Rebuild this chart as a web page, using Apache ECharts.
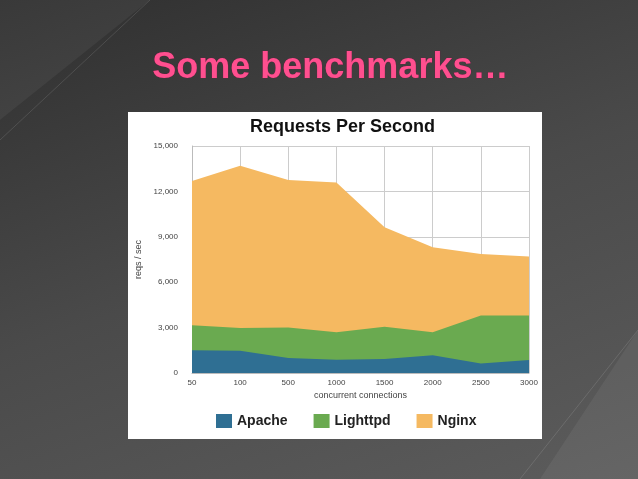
<!DOCTYPE html>
<html>
<head>
<meta charset="utf-8">
<script src="https://cdn.jsdelivr.net/npm/echarts@6/dist/echarts.min.js"></script>
<style>
  html, body { margin: 0; padding: 0; }
  body { width: 638px; height: 479px; background: linear-gradient(160deg, #2f2f2f 0%, #4a4a4a 50%, #5c5c5c 100%); }
  #main { width: 638px; height: 479px; }
</style>
</head>
<body>
<div id="main"></div>
<script>
// connection counts
var categories = ["50", "100", "500", "1000", "1500", "2000", "2500", "3000"];
// values read as drawn (area tops, overlapping)
var apache   = [1500, 1470, 990, 880, 920, 1170, 620, 860];
var lighttpd = [3150, 2970, 3010, 2700, 3060, 2700, 3800, 3800];
var nginx    = [12690, 13700, 12750, 12580, 9630, 8310, 7870, 7700];
var yTicks = [0, 3000, 6000, 9000, 12000, 15000];

var chart = echarts.init(document.getElementById("main"));

function area(name, data, color) {
  return {
    name: name, type: "line", data: data,
    symbol: "none", lineStyle: { width: 0 },
    areaStyle: { color: color, opacity: 1 },
    itemStyle: { color: color }
  };
}

chart.setOption({
  animation: false,
  graphic: [
    { type: "polygon", silent: true, shape: { points: [[0, 0], [150, 0], [0, 120]] }, style: { fill: "rgba(255,255,255,0.05)" } },
    { type: "polygon", silent: true, shape: { points: [[540, 479], [638, 330], [638, 479]] }, style: { fill: "rgba(255,255,255,0.06)" } },
    { type: "line", silent: true, shape: { x1: 0, y1: 140, x2: 150, y2: 0 }, style: { stroke: "rgba(255,255,255,0.12)", lineWidth: 1 } },
    { type: "line", silent: true, shape: { x1: 520, y1: 479, x2: 638, y2: 330 }, style: { stroke: "rgba(255,255,255,0.12)", lineWidth: 1 } },
    { type: "rect", silent: true, z: -1, shape: { x: 128, y: 112, width: 414, height: 327 }, style: { fill: "#ffffff" } },
    { type: "text", silent: true, left: 152, top: 50,
      style: { text: "Some benchmarks…", fill: "#ff4f8f", font: "bold 36px 'Liberation Sans', Arial, sans-serif",
               stroke: "#6a2040", lineWidth: 0.6, shadowColor: "rgba(0,0,0,0.6)", shadowBlur: 3, shadowOffsetX: 1, shadowOffsetY: 1 } },
    { type: "text", silent: true, left: 250, top: 118,
      style: { text: "Requests Per Second", fill: "#111", font: "bold 18px 'Liberation Sans', Arial, sans-serif" } }
  ],
  grid: { left: 192, right: 109, top: 146, bottom: 106 },
  legend: {
    bottom: 46, left: 211, itemWidth: 16, itemHeight: 14, itemGap: 26,
    icon: "rect",
    textStyle: { fontWeight: "bold", fontSize: 14, color: "#222", fontFamily: "Liberation Sans" },
    data: ["Apache", "Lighttpd", "Nginx"]
  },
  xAxis: {
    type: "category", data: categories, boundaryGap: false,
    name: "concurrent connections", nameLocation: "middle", nameGap: 18,
    nameTextStyle: { fontSize: 9, color: "#444" },
    axisLine: { lineStyle: { color: "#bbb" } }, axisTick: { show: false },
    axisLabel: { fontSize: 8, color: "#444", margin: 6 },
    splitLine: { show: true, lineStyle: { color: "#ccc" } }
  },
  yAxis: {
    type: "value", min: yTicks[0], max: yTicks[yTicks.length - 1], interval: 3000,
    name: "reqs / sec", nameLocation: "middle", nameGap: 42,
    nameTextStyle: { fontSize: 9, color: "#444" },
    axisLine: { show: true, lineStyle: { color: "#bbb" } }, axisTick: { show: false },
    axisLabel: { fontSize: 8, color: "#444", margin: 14 },
    splitLine: { lineStyle: { color: "#ccc" } }
  },
  series: [
    area("Nginx", nginx, "#f5b961"),
    area("Lighttpd", lighttpd, "#6aaa50"),
    area("Apache", apache, "#2f6f93")
  ]
});
</script>
</body>
</html>
